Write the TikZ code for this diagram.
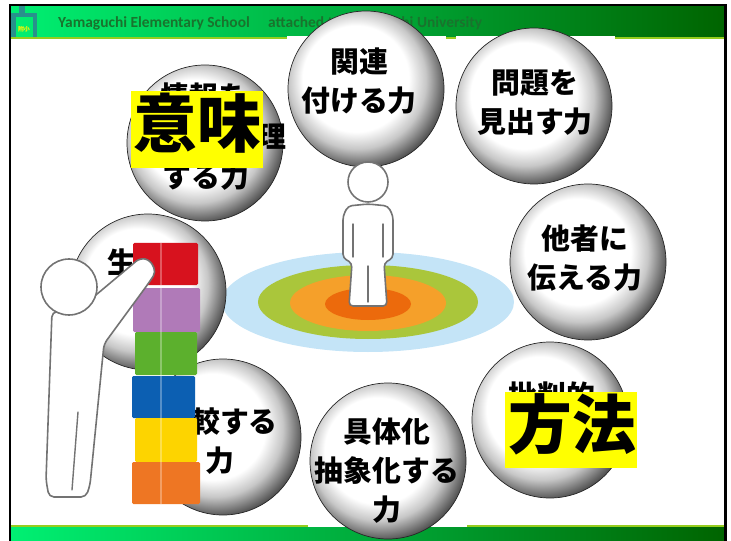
\documentclass[tikz,border=0pt]{standalone}
\usepackage{fontspec}
\newfontfamily\jpfont{Noto Sans CJK JP}
\newfontfamily\hdrfont{Carlito}

\definecolor{hdrlight}{RGB}{0,240,115}
\definecolor{hdrdark}{RGB}{0,100,0}
\definecolor{hdrline}{RGB}{150,205,30}
\definecolor{hdrtext}{RGB}{25,115,45}
\definecolor{logoteal}{RGB}{40,145,140}
\definecolor{keyyellow}{RGB}{255,255,0}
\definecolor{ringblue}{RGB}{196,228,247}
\definecolor{ringgreen}{RGB}{170,198,59}
\definecolor{ringorange}{RGB}{245,160,42}
\definecolor{ringcore}{RGB}{236,106,12}
\definecolor{blockred}{RGB}{215,18,30}
\definecolor{blockpurple}{RGB}{176,122,184}
\definecolor{blockgreen}{RGB}{92,176,45}
\definecolor{blockblue}{RGB}{12,95,178}
\definecolor{blockyellow}{RGB}{253,212,0}
\definecolor{blockorange}{RGB}{238,118,35}
\definecolor{figline}{RGB}{115,115,115}

% glossy ball look for the skill bubbles
\pgfdeclareradialshading{bubble}{\pgfpoint{-5bp}{5bp}}{color(0bp)=(white); color(17bp)=(white); color(22bp)=(black!22); color(28bp)=(black!70); color(32bp)=(black!82); color(35bp)=(black!55); color(50bp)=(black!50)}

\begin{document}
\begin{tikzpicture}[x = 1bp, y = -1bp,
	bubble/.style = {circle, draw = black!85, line width = 0.7pt, shading = bubble, minimum size = 156bp, inner sep = 0pt},
	bubbletext/.style = {font = \jpfont\bfseries\fontsize{29}{39}\selectfont, align = center, inner sep = 0pt},
	keybox/.style = {fill = keyyellow, minimum width = 132bp, minimum height = 77bp, inner sep = 0pt},
	keytext/.style = {font = \jpfont\bfseries\fontsize{64}{64}\selectfont, inner sep = 0pt},
	person/.style = {draw = figline, fill = white, line width = 1.6pt, line join = round},
	personline/.style = {draw = figline, line width = 1.4pt, line cap = round}]

	\useasboundingbox (0, 0) rectangle (731, 541);

	% Header and footer bands

	\fill [left color = hdrlight, right color = hdrdark] (10, 5) rectangle (725.5, 36.7);
	\fill [hdrline] (10, 36.7) rectangle (725.5, 39.3);
	\fill [left color = hdrlight, right color = hdrdark] (10, 527) rectangle (725.5, 541);
	\fill [hdrline] (10, 524.5) rectangle (725.5, 527);

	\fill [white] (287, 36.5) rectangle (446, 39.5);
	\fill [white] (456, 36.5) rectangle (615, 39.5);
	\fill [white] (308, 524.3) rectangle (467, 527.2);

	% School mark

	\fill [logoteal] (19, 6) rectangle (25, 14);
	\fill [logoteal] (11, 13) rectangle (37, 17.5);
	\fill [logoteal] (11, 17.5) rectangle (15.5, 37);
	\fill [logoteal] (32.5, 17.5) rectangle (37, 37);
	\node [font = \jpfont\bfseries\fontsize{6}{6}\selectfont, text = yellow, inner sep = 0pt] (mark) at (24, 29.5) {附小};

	\node [anchor = base west, inner sep = 0pt, text = hdrtext, font = \hdrfont\bfseries\fontsize{15.5}{15.5}\selectfont] (school) at (58, 28) {Yamaguchi Elementary School};
	\node [anchor = base west, inner sep = 0pt, text = hdrtext, font = \hdrfont\bfseries\fontsize{15.5}{15.5}\selectfont] (univ) at (268, 28) {attached to Yamaguchi University};

	% Target rings under the standing figure

	\fill [ringblue] (368, 302) ellipse [x radius = 146, y radius = 50];
	\fill [ringgreen] (368, 302) ellipse [x radius = 110, y radius = 37];
	\fill [ringorange] (368, 303) ellipse [x radius = 78, y radius = 28];
	\fill [ringcore] (368, 304) ellipse [x radius = 43, y radius = 16];

	% Skill bubbles

	\foreach \name/\pos in {kanren/{(366, 89)}, mondai/{(534, 106)}, tasha/{(588, 262)}, hihan/{(550, 420)},
		gutai/{(388, 461)}, hikaku/{(223, 437)}, sei/{(148, 292)}, joho/{(205, 143)}}
		\node [bubble] (\name) at \pos {};

	\node [bubbletext] (kanrentext) at (359, 81) {関連\\付ける力};
	\node [bubbletext] (mondaitext) at (535, 103) {問題を\\見出す力};
	\node [bubbletext] (tashatext) at (585, 258) {他者に\\伝える力};
	\node [bubbletext] (hihantext) at (552, 396) {批判的};
	\node [bubbletext] (gutaitext) at (387, 471) {具体化\\抽象化する\\力};
	\node [bubbletext] (hikakutext) at (220, 441) {比較する\\力};
	\node [bubbletext] (seitext) at (122, 262) {生};
	\node [bubbletext] (johotop) at (204, 97) {情報を};
	\node [bubbletext] (johomid) at (272, 137) {理};
	\node [bubbletext] (johobot) at (206, 177) {する力};

	% Stacked blocks

	\foreach \col/\xa/\ya/\xb/\yb in {blockred/133/243/198/285, blockpurple/133/288/200/332, blockgreen/135/332/197/375,
		blockblue/132/376/195/418, blockyellow/135/418/197/462, blockorange/132/462/200/504}
	{
		\fill [\col, rounded corners = 1.5] (\xa, \ya) rectangle (\xb, \yb);
		\draw [white, opacity = 0.3, line width = 1.2pt] (161, \ya) -- (161, \yb);
	}

	% Standing figure

	\draw [person, rounded corners = 4] (368, 204) -- (388, 206) -- (393, 216) -- (393, 258) -- (384, 263) -- (387, 306)
		-- (349, 306) -- (352, 263) -- (343, 258) -- (343, 216) -- (348, 206) -- cycle;
	\draw [personline] (353, 224) -- (353, 257);
	\draw [personline] (383, 224) -- (383, 257);
	\draw [personline] (368, 266) -- (368, 302);
	\node [person, circle, minimum size = 40bp, inner sep = 0pt] (standhead) at (368, 182) {};

	% Figure reaching for the top block

	\draw [person, rounded corners = 5] (52, 312) -- (46, 480) -- (49, 497) -- (86, 497) -- (90, 485) -- (104, 344)
		-- (148, 284) -- (156, 272) -- (150, 260) -- (140, 258) -- (78, 310) -- cycle;
	\draw [personline] (78, 412) -- (72, 490);
	\node [person, circle, minimum size = 56bp, inner sep = 0pt] (reachhead) at (69, 287) {};

	% Keywords

	\node [keybox] (imi) at (197, 129.5) {};
	\node [keytext] (imitext) at (197, 123.5) {意味};
	\node [keybox, minimum height = 76bp] (hoho) at (571, 430) {};
	\node [keytext] (hohotext) at (572, 424) {方法};

	% Frame

	\draw [black, line width = 2.2pt] (10, 541) -- (10, 5) -- (725.5, 5) -- (725.5, 541);

\end{tikzpicture}
\end{document}
